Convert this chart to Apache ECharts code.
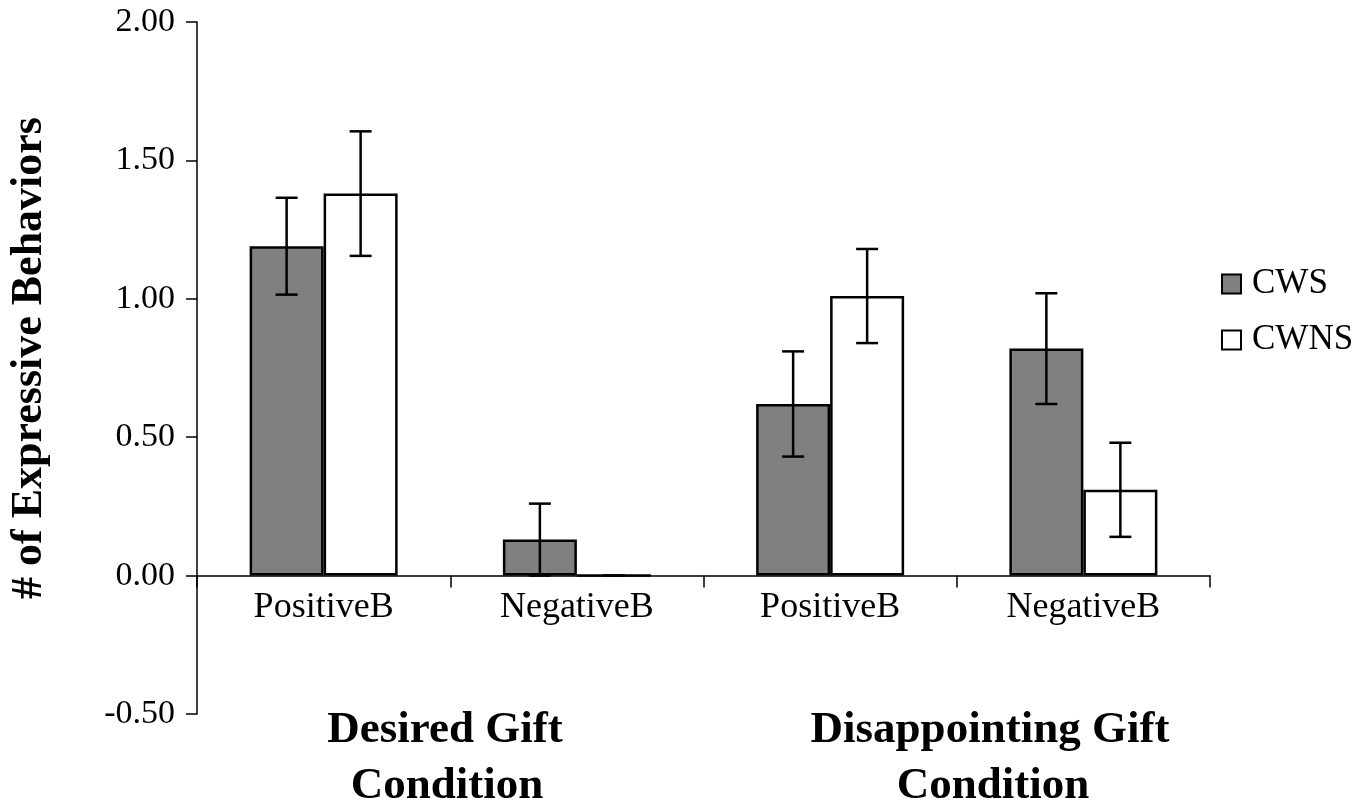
<!DOCTYPE html>
<html>
<head>
<meta charset="utf-8">
<script src="https://cdn.jsdelivr.net/npm/echarts@6/dist/echarts.min.js"></script>
<style>
html,body{margin:0;padding:0;background:#fff;}
#chart{width:1370px;height:806px;}
</style>
</head>
<body>
<div id="chart"></div>
<script>
var categories = ['PositiveB', 'NegativeB', 'PositiveB', 'NegativeB'];
var groupLabels = ['Desired Gift\nCondition', 'Disappointing Gift\nCondition'];
var seriesNames = ['CWS', 'CWNS'];
var cwsValues = [1.19, 0.13, 0.62, 0.82];
var cwsErrors = [0.175, 0.13, 0.19, 0.20];
var cwnsValues = [1.38, 0.00, 1.01, 0.31];
var cwnsErrors = [0.225, 0.00, 0.17, 0.17];
var yTicks = { min: -0.5, max: 2.0, interval: 0.5 };

var FONT = 'Liberation Serif';
var BAR_W = 74;
var GRID = { left: 197, right: 160, top: 22, bottom: 92 };
var gridH = 806 - GRID.top - GRID.bottom;
// move x axis (line, ticks, labels) from the grid bottom up to the zero line
var zeroOffset = -gridH * (0 - yTicks.min) / (yTicks.max - yTicks.min);

function errData(vals, errs) {
  return vals.map(function (v, i) { return [i, v - errs[i], v + errs[i]]; });
}

function errSeries(name, vals, errs, offset) {
  return {
    type: 'custom',
    name: name + ' error',
    z: 10,
    silent: true,
    data: errData(vals, errs),
    encode: { x: 0, y: [1, 2] },
    renderItem: function (params, api) {
      var lo = api.coord([api.value(0), api.value(1)]);
      var hi = api.coord([api.value(0), api.value(2)]);
      var x = lo[0] + offset;
      var cap = 11;
      var st = { stroke: '#000', lineWidth: 2.5 };
      return {
        type: 'group',
        children: [
          { type: 'line', shape: { x1: x, y1: lo[1], x2: x, y2: hi[1] }, style: st },
          { type: 'line', shape: { x1: x - cap, y1: lo[1], x2: x + cap, y2: lo[1] }, style: st },
          { type: 'line', shape: { x1: x - cap, y1: hi[1], x2: x + cap, y2: hi[1] }, style: st }
        ]
      };
    }
  };
}

var chart = echarts.init(document.getElementById('chart'), null, { renderer: 'canvas' });
var gl = groupLabels.map(function (s) { return s.split('\n'); });

chart.setOption({
  animation: false,
  backgroundColor: '#fff',
  grid: { left: GRID.left, right: GRID.right, top: GRID.top, bottom: GRID.bottom, containLabel: false },
  legend: {
    orient: 'vertical',
    left: 1216,
    top: 261,
    itemWidth: 19,
    itemHeight: 19,
    itemGap: 20,
    icon: 'rect',
    textStyle: { fontFamily: FONT, fontSize: 35, color: '#000', lineHeight: 36, padding: [0, 0, 0, 6] },
    data: [
      { name: seriesNames[0], itemStyle: { color: '#808080', borderColor: '#000', borderWidth: 2 } },
      { name: seriesNames[1], itemStyle: { color: '#fff', borderColor: '#000', borderWidth: 2 } }
    ]
  },
  xAxis: {
    type: 'category',
    data: categories,
    boundaryGap: true,
    offset: zeroOffset,
    axisLine: { onZero: false, lineStyle: { color: '#000', width: 1.5 } },
    axisTick: { show: true, length: 12, lineStyle: { color: '#000', width: 1.5 } },
    axisLabel: { fontFamily: FONT, fontSize: 36, color: '#000', margin: 14 },
    splitLine: { show: false }
  },
  yAxis: {
    type: 'value',
    min: yTicks.min,
    max: yTicks.max,
    interval: yTicks.interval,
    axisLine: { show: true, lineStyle: { color: '#000', width: 1.5 } },
    axisTick: { show: true, length: 11, lineStyle: { color: '#000', width: 1.5 } },
    axisLabel: { fontFamily: FONT, fontSize: 34, color: '#000', margin: 22,
      formatter: function (v) { return v.toFixed(2); } },
    splitLine: { show: false }
  },
  series: [
    {
      name: seriesNames[0], type: 'bar', data: cwsValues, barWidth: BAR_W, barGap: '0%',
      itemStyle: { color: '#808080', borderColor: '#000', borderWidth: 2.5 }
    },
    {
      name: seriesNames[1], type: 'bar', data: cwnsValues, barWidth: BAR_W, barGap: '0%',
      itemStyle: { color: '#fff', borderColor: '#000', borderWidth: 2.5 }
    },
    errSeries(seriesNames[0], cwsValues, cwsErrors, -BAR_W / 2),
    errSeries(seriesNames[1], cwnsValues, cwnsErrors, BAR_W / 2)
  ],
  graphic: [
    { type: 'text', x: 30, y: 358, rotation: Math.PI / 2,
      style: { text: '# of Expressive Behaviors', fontFamily: FONT, fontWeight: 'bold', fontSize: 44,
        fill: '#000', textAlign: 'center', textVerticalAlign: 'middle' } },
    { type: 'text', x: 445, y: 730,
      style: { text: gl[0][0], fontFamily: FONT, fontWeight: 'bold', fontSize: 45, fill: '#000', textAlign: 'center', textVerticalAlign: 'middle' } },
    { type: 'text', x: 447, y: 786,
      style: { text: gl[0][1], fontFamily: FONT, fontWeight: 'bold', fontSize: 45, fill: '#000', textAlign: 'center', textVerticalAlign: 'middle' } },
    { type: 'text', x: 990, y: 730,
      style: { text: gl[1][0], fontFamily: FONT, fontWeight: 'bold', fontSize: 45, fill: '#000', textAlign: 'center', textVerticalAlign: 'middle' } },
    { type: 'text', x: 993, y: 786,
      style: { text: gl[1][1], fontFamily: FONT, fontWeight: 'bold', fontSize: 45, fill: '#000', textAlign: 'center', textVerticalAlign: 'middle' } }
  ]
});
</script>
</body>
</html>
